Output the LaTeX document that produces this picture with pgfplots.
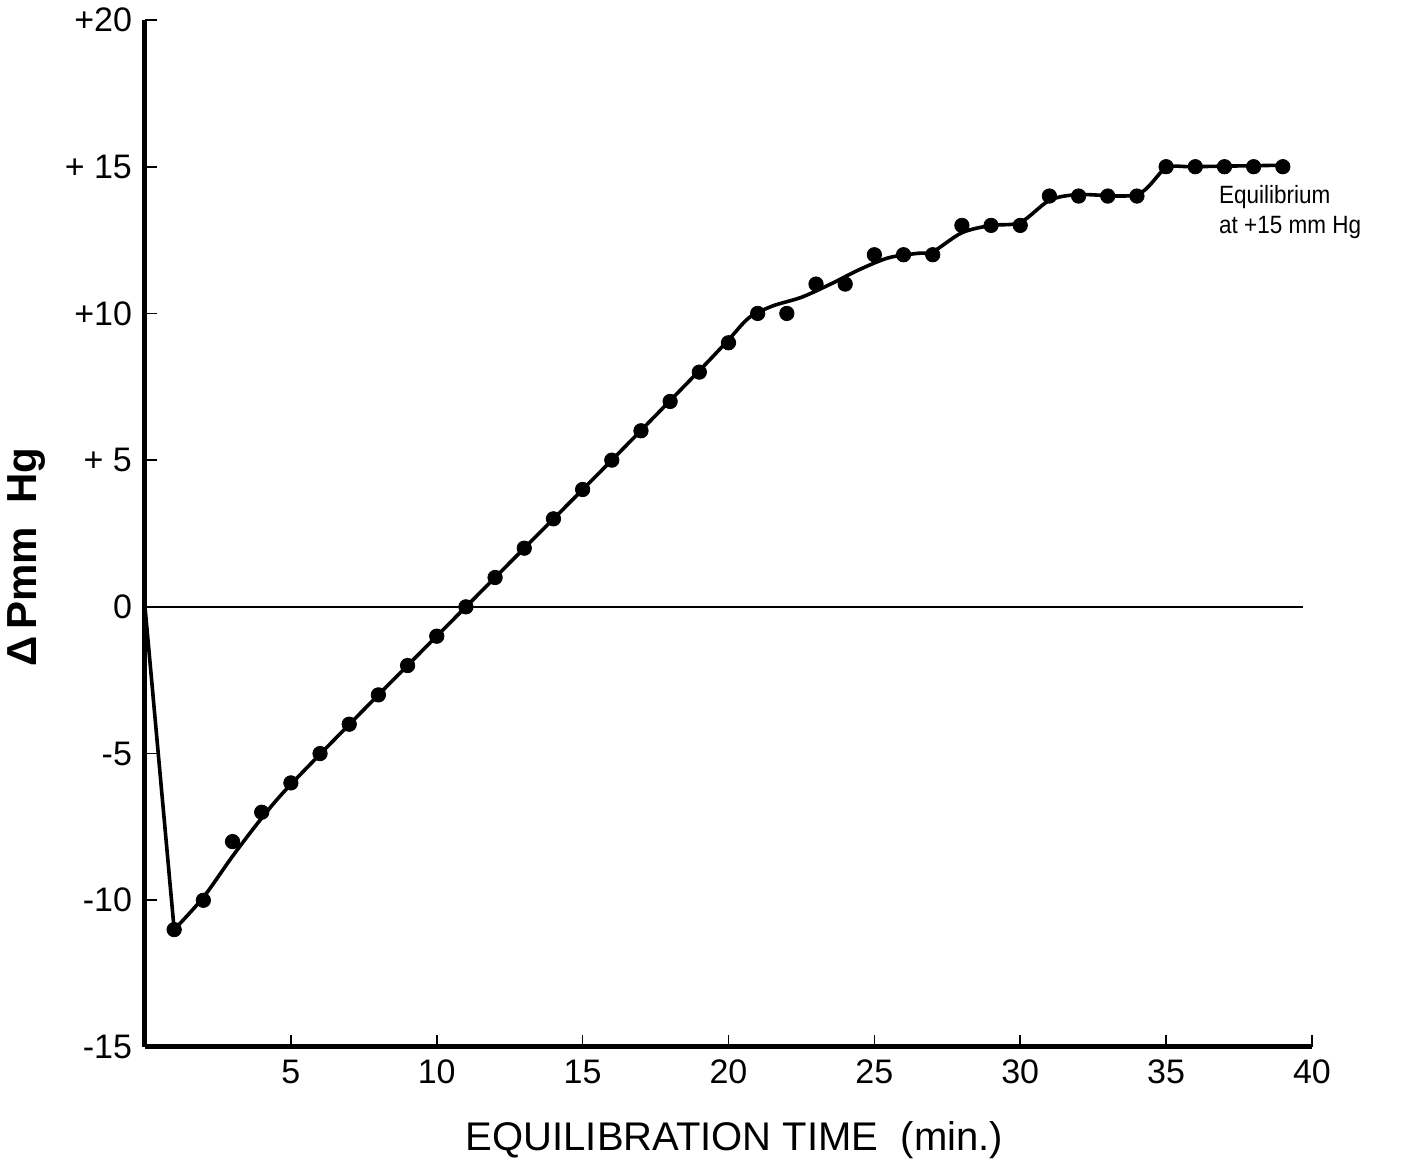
\documentclass[border=0pt]{standalone}
\usepackage{fontspec}
\setmainfont{Liberation Sans}
\usepackage{pgfplots}
\pgfplotsset{compat=1.18}
\begin{document}
\begin{tikzpicture}
\begin{axis}[
  scale only axis, width=583.5pt, height=513.5pt,
  xmin=0, xmax=40, ymin=-15, ymax=20,
  axis x line*=bottom, axis y line*=left,
  axis line style={line width=2.5pt, black},
  tick align=inside, major tick length=6pt,
  tick style={line width=0.8pt, black},
  xtick={5,10,...,40}, xticklabels={5,10,15,20,25,30,35,40},
  ytick={-15,-10,...,20}, yticklabels={-15,-10,-5,0,+ 5,+10,+ 15,+20},
  ticklabel style={font=\fontsize{17}{17}\selectfont},
  xticklabel style={yshift=-3pt},
  yticklabel style={xshift=-3pt},
  clip=false,
]
% zero reference line
\addplot[black, line width=0.75pt] coordinates {(0,0) (39.7,0)};
% initial drop
\addplot[black, line width=1.8pt] coordinates {(0,0) (1,-11)};
% smooth fitted curve
\addplot[black, line width=1.8pt, smooth, tension=0.5] coordinates {
(1,-11) (2,-9.9) (3,-8.5) (4,-7.2) (5,-6.05) (8,-3.0) (12,1.0) (16,5.0)
(19,8.05) (20,9.1) (20.7,9.85) (21.5,10.25) (22.5,10.55) (23.5,11.0)
(24.5,11.5) (25.5,11.9) (26.5,12.05) (27,12.1) (28,12.75) (29,13.0)
(30,13.1) (31,13.85) (32,14.05) (34,14.05) (35,14.95) (36,15.0) (39,15.05)};
% data points
\addplot[only marks, mark=*, mark size=3.6pt, black] coordinates {
(1,-11) (2,-10) (3,-8) (4,-7) (5,-6) (6,-5) (7,-4) (8,-3) (9,-2) (10,-1)
(11,0) (12,1) (13,2) (14,3) (15,4) (16,5) (17,6) (18,7) (19,8) (20,9)
(21,10) (22,10) (23,11) (24,11) (25,12) (26,12) (27,12) (28,13) (29,13) (30,13)
(31,14) (32,14) (33,14) (34,14) (35,15) (36,15) (37,15) (38,15) (39,15)};
\node[anchor=west, align=left, font=\fontsize{12.5}{15}\selectfont, xscale=0.9, transform shape] at (axis cs:36.6,13.45) {Equilibrium\\at +15 mm Hg};
\end{axis}
\node[font=\fontsize{20}{20}\selectfont] at (294.7pt,-46.5pt) {EQUILIBRATION TIME~~(min.)};
\node[rotate=90, font=\bfseries\fontsize{21}{21}\selectfont] at (-59pt,245pt) {Δ\,Pmm~~Hg};
\pgfresetboundingbox
\path[use as bounding box] (-72.5pt,-57.5pt) rectangle (632pt,523.5pt);
\end{tikzpicture}
\end{document}
